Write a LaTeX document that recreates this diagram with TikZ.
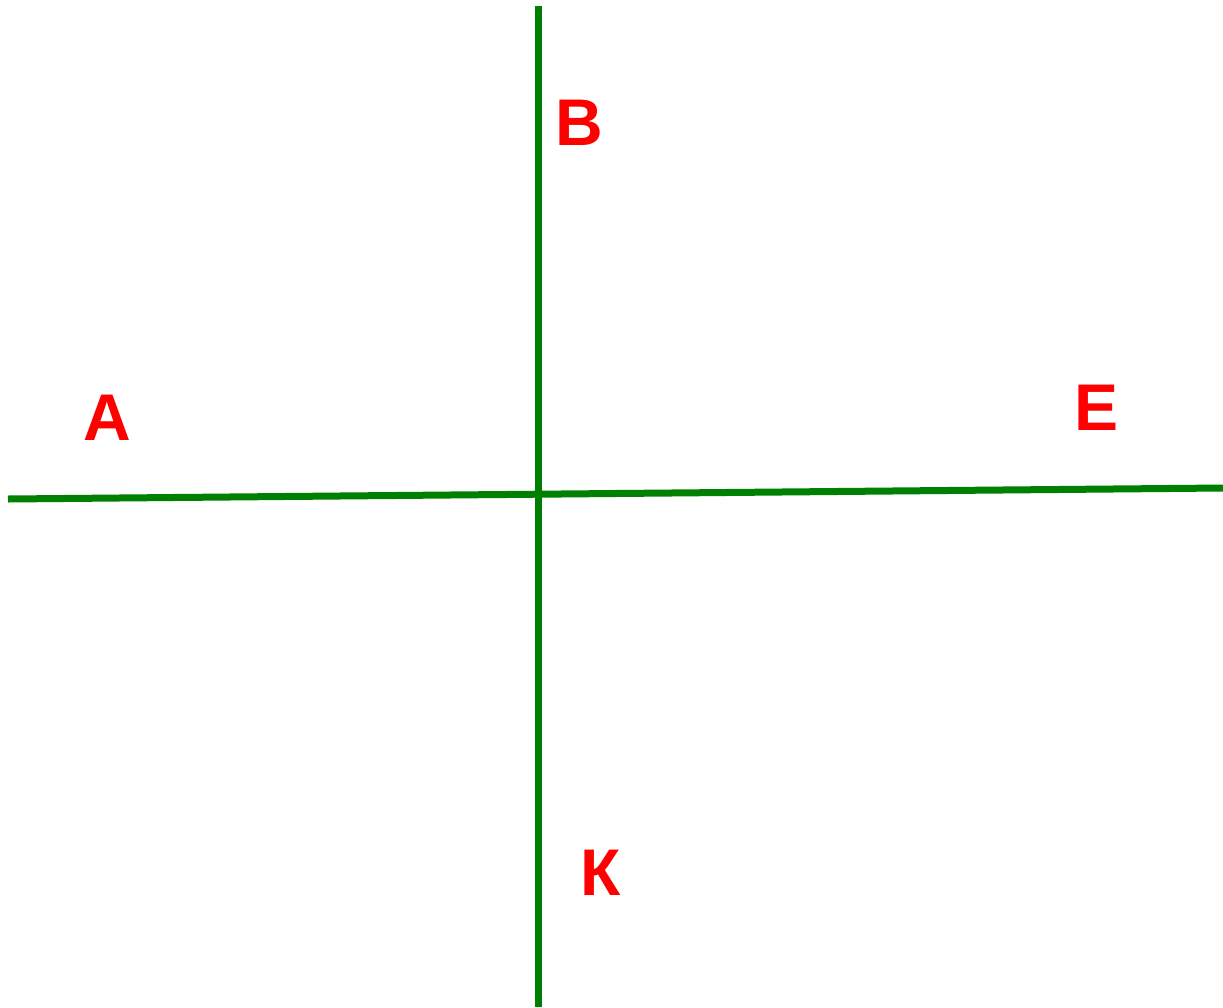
\documentclass[tikz,border=0pt]{standalone}
\usepackage{fontspec}
\setmainfont{Liberation Sans}
\newfontfamily\lblfont{Liberation Sans}
\definecolor{linegreen}{RGB}{0,128,0}
\definecolor{labelred}{RGB}{255,0,0}
\begin{document}
\begin{tikzpicture}[x=1pt,y=-1pt,
  lbl/.style={text=labelred,font=\lblfont\fontsize{66}{66}\selectfont\bfseries,inner sep=0pt,anchor=base},
  axis/.style={draw=linegreen,line width=7pt}]
\useasboundingbox (0,0) rectangle (1223,1007);
\coordinate (hl) at (8,499);
\coordinate (hr) at (1223,488);
\coordinate (vt) at (538,6);
\coordinate (vb) at (538,1007);
\draw[axis] (hl) -- (hr);
\draw[axis] (vt) -- (vb);
\node[lbl] (B) at (579,145) {B};
\node[lbl] (A) at (107,440) {A};
\node[lbl] (E) at (1096,430) {E};
\node[lbl] (K) at (601,895) {\char"041A};
\end{tikzpicture}
\end{document}
